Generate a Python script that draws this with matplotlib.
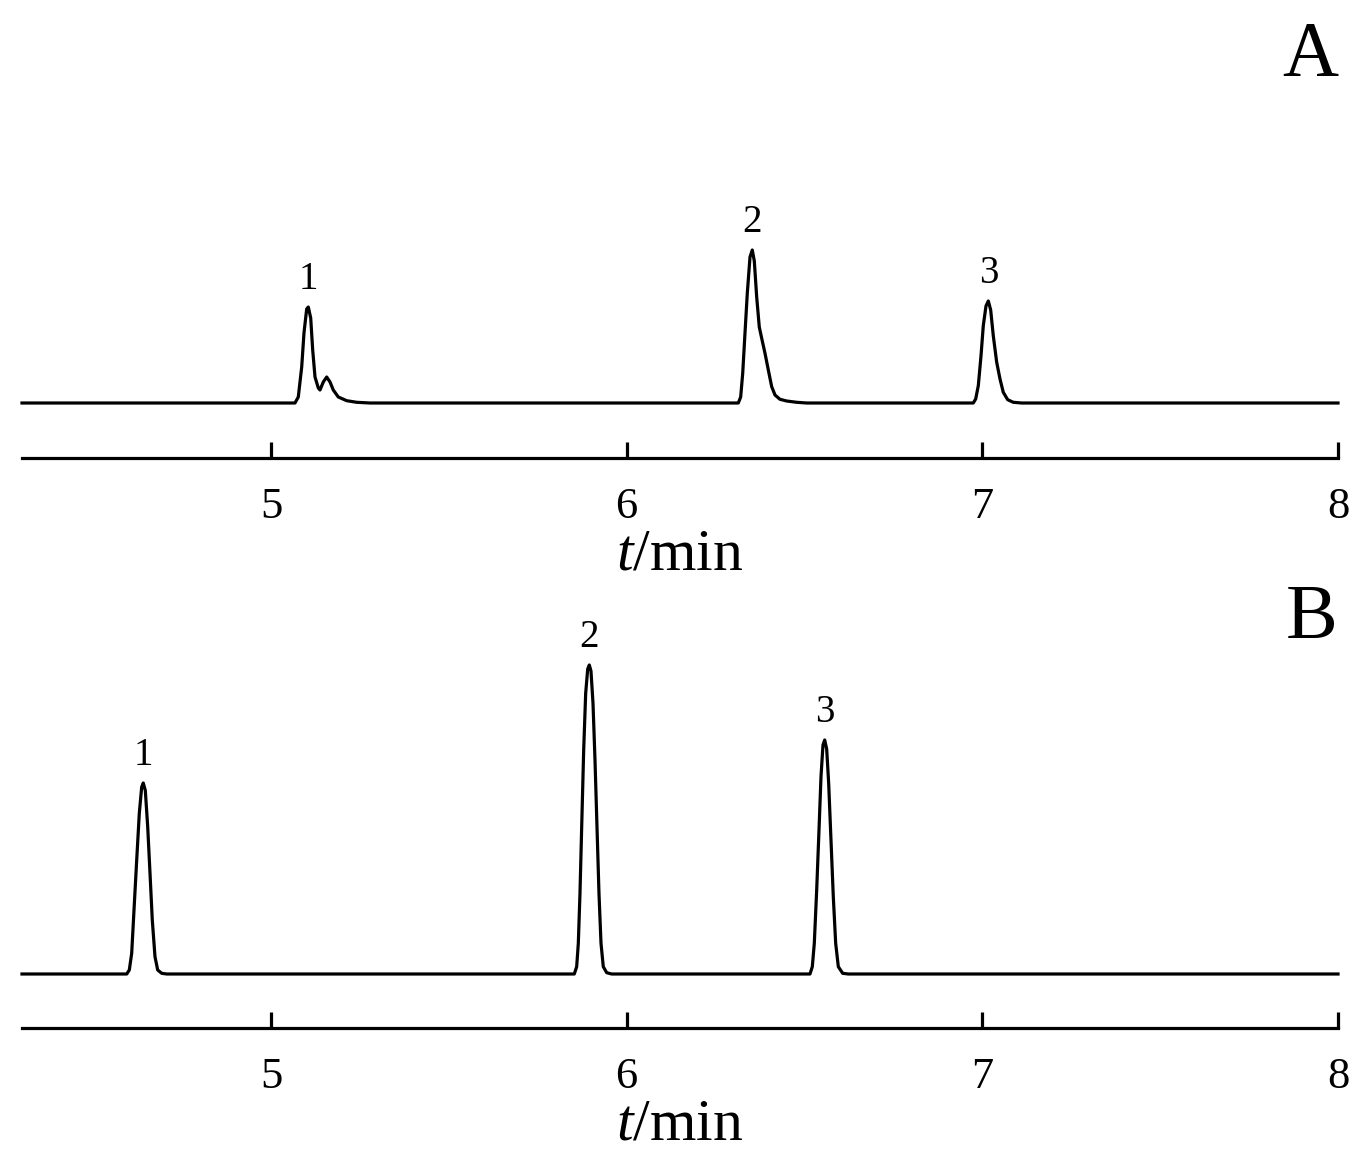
import matplotlib

matplotlib.use("Agg")
import matplotlib.pyplot as plt
import numpy as np

plt.rcParams["font.family"] = ["Liberation Serif", "DejaVu Serif"]
plt.rcParams["mathtext.fontset"] = "custom"
plt.rcParams["mathtext.rm"] = "Liberation Serif"
plt.rcParams["mathtext.it"] = "Liberation Serif:italic"

# time window of both chromatograms, min
t_start, t_end = 4.3, 8.0
tick_values = [5, 6, 7, 8]

# chromatogram A (signal in arbitrary units, baseline = 0)
a_peak1_t = [5.0535, 5.0675, 5.0768, 5.0864, 5.0928, 5.1004, 5.1049, 5.1117, 5.1173,
             5.1238, 5.1331, 5.1378, 5.1471, 5.1567, 5.1660, 5.1752, 5.1893, 5.2129,
             5.2410, 5.2784]
a_peak1_y = [0, 0, 6, 36, 70, 94, 96, 85, 53, 26, 15, 13, 21, 26, 21, 13, 6, 2.3, 0.7, 0]

a_peak2_t = [6.3139, 6.3206, 6.3263, 6.3327, 6.3392, 6.3468, 6.3532, 6.3589, 6.3656,
             6.3729, 6.3797, 6.3890, 6.3983, 6.4078, 6.4171, 6.4311, 6.4500, 6.4781,
             6.5062]
a_peak2_y = [0, 6, 29.7, 69.7, 109.7, 146, 153, 142, 106, 76, 64.7, 49.7, 33, 16.3,
             8, 3.7, 2, 0.7, 0]

a_peak3_t = [6.9746, 6.9813, 6.9887, 6.9963, 7.0027, 7.0103, 7.0168, 7.0235, 7.0308,
             7.0404, 7.0497, 7.0589, 7.0713, 7.0871, 7.1107]
a_peak3_y = [0, 4, 17.3, 47.3, 77.3, 97, 102, 93, 67.3, 40.7, 24, 10.7, 3.3, 0.7, 0]

# chromatogram B
b_peak1_t = [4.5944, 4.6017, 4.6084, 4.6149, 4.6225, 4.6298, 4.6365, 4.6410, 4.6467,
             4.6534, 4.6599, 4.6663, 4.6739, 4.6815, 4.6928, 4.7068]
b_peak1_y = [0, 4, 20.7, 64, 114, 160.7, 187, 191, 183.5, 147.3, 100.7, 54, 17.3, 4,
             0.7, 0]

b_peak2_t = [5.8528, 5.8595, 5.8641, 5.8688, 5.8736, 5.8792, 5.8848, 5.8905, 5.8950,
             5.8997, 5.9054, 5.9110, 5.9166, 5.9222, 5.9279, 5.9343, 5.9439, 5.9580]
b_peak2_y = [0, 7.3, 30.7, 80.7, 147.3, 224, 280.7, 305, 309, 303, 270.7, 214, 147.3,
             80.7, 30.7, 7.3, 1.3, 0]

b_peak3_t = [6.5155, 6.5220, 6.5276, 6.5343, 6.5408, 6.5464, 6.5520, 6.5568, 6.5624,
             6.5680, 6.5745, 6.5810, 6.5877, 6.5951, 6.6074, 6.6232]
b_peak3_y = [0, 7.3, 30.7, 84, 144, 197.3, 229, 234, 225, 190.7, 134, 77.3, 30.7, 7.3,
             0.7, 0]

# peak numbers and where they sit (apex of each peak)
peak_labels = ["1", "2", "3"]
a_label_t = [5.1049, 6.3532, 7.0168]
a_label_y = [96, 153, 102]
b_label_t = [4.6410, 5.8950, 6.5568]
b_label_y = [191, 309, 234]


def build_trace(peaks_t, peaks_y):
    t = [t_start]
    y = [0]
    for pt, py in zip(peaks_t, peaks_y):
        t += pt
        y += py
    t.append(t_end)
    y.append(0)
    return np.array(t), np.array(y)


def draw_panel(ax, t, y, label_t, label_y, ylim):
    ax.plot(t, y, color="black", lw=2.3, solid_joinstyle="round", clip_on=False)
    for txt, lt, ly in zip(peak_labels, label_t, label_y):
        ax.annotate(txt, xy=(lt, ly), xytext=(0, 13), textcoords="offset points",
                    ha="center", va="baseline", fontsize=28)
    ax.set_xlim(t_start, t_end)
    ax.set_ylim(*ylim)
    ax.set_xticks(tick_values)
    ax.set_xticklabels([str(v) for v in tick_values])
    ax.set_yticks([])
    for side in ("left", "right", "top"):
        ax.spines[side].set_visible(False)
    ax.spines["bottom"].set_linewidth(2.3)
    ax.tick_params(axis="x", direction="in", length=11.5, width=2.3, pad=21,
                   labelsize=32)
    ax.set_xlabel(r"$t$/min", fontsize=43, labelpad=1)


fig = plt.figure(figsize=(13.66, 11.65), dpi=100)
W, H = 1366, 1165

ax_a = fig.add_axes([22 / W, 1 - 458 / H, 1316 / W, 358 / H])
ax_b = fig.add_axes([22 / W, 1 - 1028 / H, 1316 / W, 388 / H])

ta, ya = build_trace([a_peak1_t, a_peak2_t, a_peak3_t], [a_peak1_y, a_peak2_y, a_peak3_y])
tb, yb = build_trace([b_peak1_t, b_peak2_t, b_peak3_t], [b_peak1_y, b_peak2_y, b_peak3_y])

draw_panel(ax_a, ta, ya, a_label_t, a_label_y, (-55, 303))
draw_panel(ax_b, tb, yb, b_label_t, b_label_y, (-54, 334))

fig.text(1338 / W, 1 - 75 / H, "A", ha="right", va="baseline", fontsize=56)
fig.text(1338 / W, 1 - 638 / H, "B", ha="right", va="baseline", fontsize=56)

fig.savefig("out.png", dpi=100)
